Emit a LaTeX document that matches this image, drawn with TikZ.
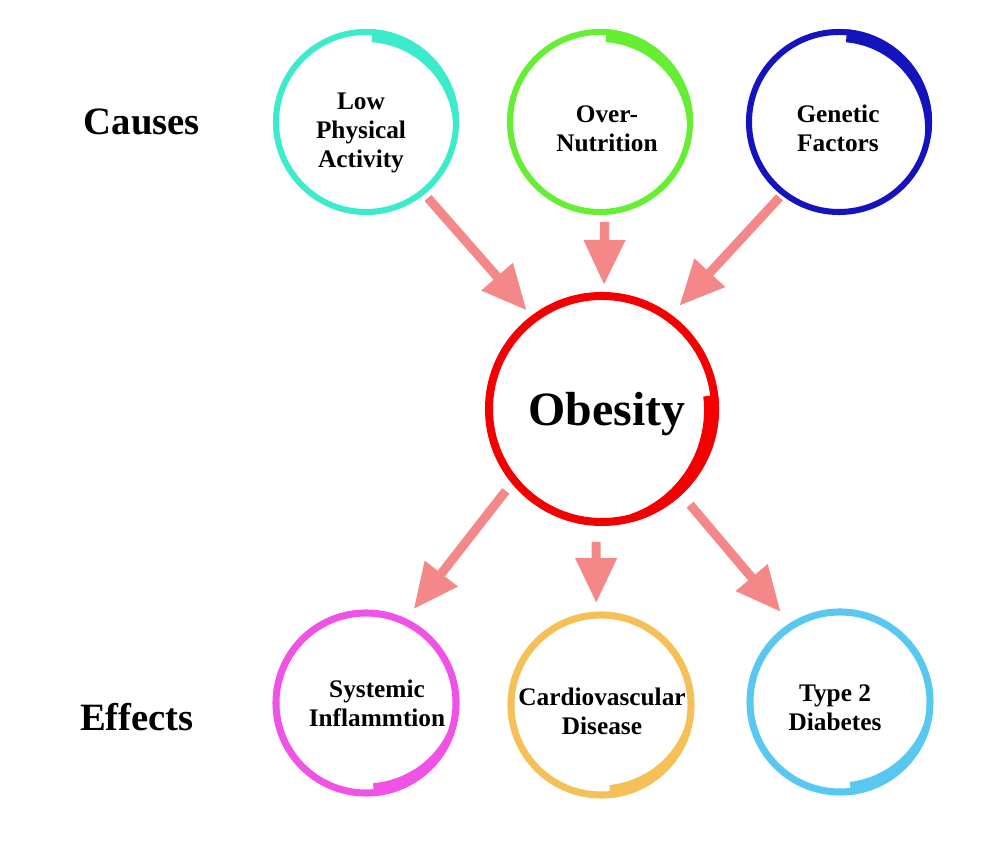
\documentclass[tikz,border=0pt]{standalone}
\usepackage{fontspec}
\setmainfont{Liberation Serif}
\usetikzlibrary{arrows.meta}

\definecolor{lpacol}{RGB}{60,234,204}
\definecolor{oncol}{RGB}{102,238,51}
\definecolor{gfcol}{RGB}{20,20,190}
\definecolor{obcol}{RGB}{245,0,0}
\definecolor{sicol}{RGB}{240,82,230}
\definecolor{cdcol}{RGB}{245,192,88}
\definecolor{tdcol}{RGB}{88,200,240}
\definecolor{arrcol}{RGB}{244,136,136}

% thick brush end on a ring: node, colour, radius, ring width, blunt angle, fade angle, max width
\newcommand{\brushend}[7]{%
  \fill[#2,shift={(#1.center)}] plot[domain=#5:#6,samples=30] (\x:{#3+#4/2})
    -- plot[domain=#6:#5,samples=30] (\x:{#3-#4/2-(#7-#4)*sin(90*((\x-(#6))/((#5)-(#6))))}) -- cycle;
}

\begin{document}
\begin{tikzpicture}[x=0.025cm,y=0.025cm,
    ring/.style={circle,inner sep=0pt,outer sep=0pt},
    lbl/.style={align=center,font=\bfseries\fontsize{18}{20.6}\selectfont},
    arr/.style={-{Triangle[width=28pt,length=32pt]},line width=6.5pt,draw=arrcol}]
    \fill[white] (0,0) rectangle (1000,853);

    \node[font=\bfseries\fontsize{27.5}{30}\selectfont] (causes) at (142,731){Causes};
    \node[font=\bfseries\fontsize{27.5}{30}\selectfont] (effects) at (137,136){Effects};

    % causes
    \node[ring,draw=lpacol,line width=4.3pt,minimum size=4.5cm] (lpa) at (366,731){};
    \node[ring,draw=oncol,line width=4.3pt,minimum size=4.5cm] (on) at (600,731){};
    \node[ring,draw=gfcol,line width=4.3pt,minimum size=4.5cm] (gf) at (839,731){};
    \node[lbl] (lpatxt) at (361,720.5){Low\\Physical\\Activity};
    \node[lbl] (ontxt) at (607,724.5){Over-\\Nutrition};
    \node[lbl] (gftxt) at (838,724.5){Genetic\\Factors};

    % centre
    \node[ring,draw=obcol,line width=5.7pt,minimum size=5.65cm] (ob) at (602,444){};
    \node[font=\bfseries\fontsize{34}{38}\selectfont] (obtxt) at (607,439){Obesity};

    % effects
    \node[ring,draw=sicol,line width=5pt,minimum size=4.5cm] (si) at (366,150){};
    \node[ring,draw=cdcol,line width=5pt,minimum size=4.5cm] (cd) at (601,148){};
    \node[ring,draw=tdcol,line width=5pt,minimum size=4.5cm] (td) at (840,151){};
    \node[lbl] (sitxt) at (377,149.5){Systemic\\Inflammtion};
    \node[lbl] (cdtxt) at (602,142){Cardiovascular\\Disease};
    \node[lbl] (tdtxt) at (835,145){Type 2\\Diabetes};

    \brushend{lpa}{lpacol}{90}{6}{86}{0}{13}
    \brushend{on}{oncol}{90}{6}{86}{0}{13}
    \brushend{gf}{gfcol}{90}{6}{85}{-10}{13}
    \brushend{ob}{obcol}{113}{8}{7}{-75}{15}
    \brushend{si}{sicol}{90}{7}{-85}{-20}{13}
    \brushend{cd}{cdcol}{90}{7}{-84}{-15}{13}
    \brushend{td}{tdcol}{90}{7}{-83}{-15}{13}

    \draw (lpa.-51) edge[arr,shorten <=5.7pt,shorten >=7.8pt] (ob.127);
    \draw (on.-87) edge[arr,shorten <=7.1pt,shorten >=7.8pt] (ob.89);
    \draw (gf.-128) edge[arr,shorten <=4.3pt,shorten >=11.4pt] (ob.54);
    \draw (ob.-141) edge[arr,shorten <=9.7pt,shorten >=11.1pt] (si.65);
    \draw (ob.-93) edge[arr,shorten <=14.2pt,shorten >=8.5pt] (cd.93);
    \draw (ob.-47) edge[arr,shorten <=12.1pt,shorten >=12.8pt] (td.122);
\end{tikzpicture}
\end{document}
